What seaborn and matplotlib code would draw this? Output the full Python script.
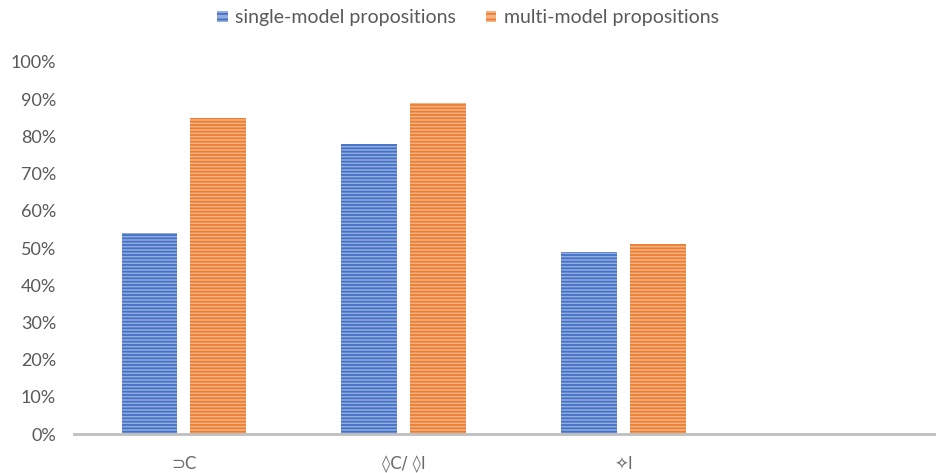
import matplotlib
matplotlib.use("Agg")
import matplotlib.pyplot as plt
import matplotlib.patches as mpatches
import seaborn as sns
import pandas as pd

# Proportions of correct answers per proposition type
categories = ["⊃C", "◊C/ ◊I", "✧I"]
single_model = [0.54, 0.78, 0.49]
multi_model = [0.85, 0.89, 0.51]
series_names = ["single-model propositions", "multi-model propositions"]
y_tick_labels = ["0%", "10%", "20%", "30%", "40%", "50%", "60%", "70%", "80%", "90%", "100%"]

df = pd.DataFrame({
    "category": categories * 2,
    "value": single_model + multi_model,
    "series": [series_names[0]] * len(categories) + [series_names[1]] * len(categories),
})

sns.set_theme(style="white")
plt.rcParams["font.family"] = ["Lato", "DejaVu Sans"]
plt.rcParams["hatch.linewidth"] = 1.3

light = {series_names[0]: "#92ace0", series_names[1]: "#f5b385"}
dark = {series_names[0]: "#4472c4", series_names[1]: "#ed7d31"}
text_color = "#595959"

fig = plt.figure(figsize=(9.36, 4.73), dpi=100)
ax = fig.add_axes([74 / 936, 39 / 473, 879 / 936, 372 / 473])

sns.barplot(data=df, x="category", y="value", hue="series", order=categories,
            hue_order=series_names, palette=light, width=0.627, gap=0.19,
            legend=False, ax=ax, saturation=1)

# Horizontal stripe fill for each series
for container, name in zip(ax.containers, series_names):
    for bar in container:
        bar.set_hatch("-----")
        bar.set_edgecolor(dark[name])
        bar.set_linewidth(0)

ax.set_xlim(-0.5, 3.5)
ax.set_ylim(0, 1.0)
ax.set_yticks([i / 10 for i in range(11)])
ax.set_yticklabels(y_tick_labels)
ax.set_xlabel("")
ax.set_ylabel("")
ax.tick_params(axis="both", length=0, colors=text_color)
ax.tick_params(axis="y", pad=13, labelsize=13)
ax.tick_params(axis="x", pad=15)
for lbl in ax.get_xticklabels():
    lbl.set_family(["DejaVu Sans"])
    lbl.set_fontsize(12)
    lbl.set_color("#6a6a6a")

for side in ["top", "right", "left"]:
    ax.spines[side].set_visible(False)
ax.spines["bottom"].set_color("#bfbfbf")
ax.spines["bottom"].set_linewidth(2)

handles = [mpatches.Patch(facecolor=light[n], edgecolor=dark[n], hatch="---", linewidth=0,
                          label=n) for n in series_names]
fig.legend(handles=handles, loc="center", bbox_to_anchor=(468 / 936, 1 - 18 / 473), ncol=2,
           frameon=False, fontsize=14, labelcolor=text_color, handlelength=0.55,
           handleheight=0.55, handletextpad=0.4, columnspacing=1.5)

fig.savefig("out.png", dpi=100)
